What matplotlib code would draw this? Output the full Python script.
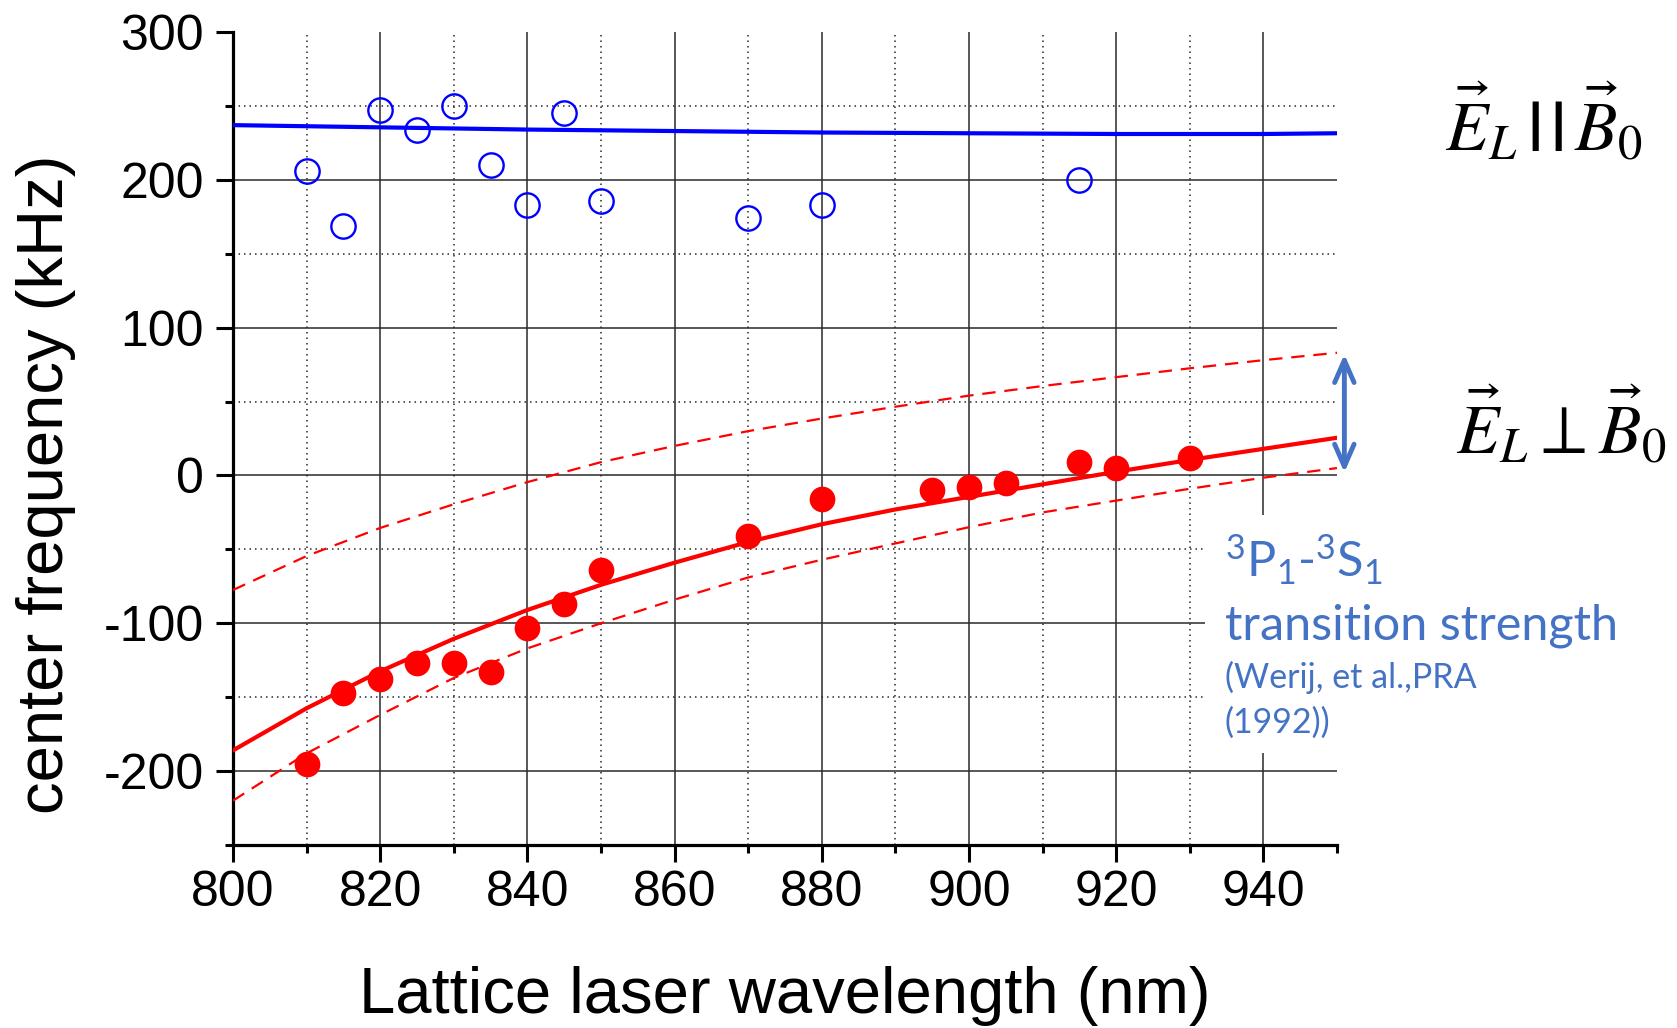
import matplotlib
matplotlib.use("Agg")
import matplotlib.pyplot as plt
from matplotlib.ticker import MultipleLocator
from matplotlib.patches import Rectangle

# ---------------- data ----------------
wl_parallel = [810, 815, 820, 825, 830, 835, 840, 845, 850, 870, 880, 915]
freq_parallel = [206, 169, 247, 234, 250, 210, 183, 245, 186, 174, 183, 200]

wl_fit_parallel = [800, 820, 840, 860, 880, 900, 920, 940, 950]
freq_fit_parallel = [237, 235.5, 234, 233, 232, 231.5, 231, 231, 231.5]

wl_perp = [810, 815, 820, 825, 830, 835, 840, 845, 850, 870, 880, 895, 900, 905, 915, 920, 930]
freq_perp = [-195, -147, -138, -127, -127, -133, -103, -87, -64, -41, -16, -10, -8, -5, 9, 5, 12]

wl_fit = [800, 810, 820, 830, 840, 850, 860, 870, 880, 890, 900, 910, 920, 930, 940, 950]
freq_fit = [-186, -157.5, -132.5, -110.5, -91, -74, -59, -45, -33, -23, -14.5, -6, 2.5, 10.5, 18, 25.5]
freq_fit_upper = [-77.5, -54.5, -35.5, -19.5, -4.5, 9, 20, 30, 38.5, 46.5, 54, 60.5, 66.5, 72.5, 78, 83]
freq_fit_lower = [-220, -188, -162, -137, -117, -100, -84, -69, -57, -46, -35, -25, -17, -9, -1.5, 5]

x_label = "Lattice laser wavelength (nm)"
y_label = "center frequency (kHz)"
label_parallel = r"$\vec{E}_L\,\mathbf{|\,|}\,\vec{B}_0$"
label_perp = r"$\vec{E}_L\perp\vec{B}_0$"
note_lines = [r"$^{3}$P$_{1}$-$^{3}$S$_{1}$", "transition strength", "(Werij, et al.,PRA", "(1992))"]

# ---------------- style ----------------
plt.rcParams["font.family"] = ["Liberation Sans", "DejaVu Sans"]
plt.rcParams["axes.unicode_minus"] = False
plt.rcParams["mathtext.fontset"] = "custom"
plt.rcParams["mathtext.rm"] = "Lato"
plt.rcParams["mathtext.it"] = "Lato:italic"
plt.rcParams["mathtext.bf"] = "Lato:bold"

W, H = 1677, 1028
fig = plt.figure(figsize=(W / 100, H / 100), dpi=100)
ax = fig.add_axes([233 / W, (H - 845) / H, 1104 / W, 813 / H])

ax.set_xlim(800, 950)
ax.set_ylim(-250, 300)
ax.xaxis.set_major_locator(MultipleLocator(20))
ax.xaxis.set_minor_locator(MultipleLocator(10))
ax.yaxis.set_major_locator(MultipleLocator(100))
ax.yaxis.set_minor_locator(MultipleLocator(50))

ax.set_axisbelow(True)
ax.grid(which="major", linestyle="-", linewidth=1.1, color="#2a2a2a")
ax.grid(which="minor", linestyle=(0, (1, 2.6)), linewidth=1.1, color="#2a2a2a")

for s in ("top", "right"):
    ax.spines[s].set_visible(False)
for s in ("left", "bottom"):
    ax.spines[s].set_linewidth(2.3)

ax.tick_params(which="major", direction="out", length=12, width=2.2, labelsize=36)
ax.tick_params(which="minor", direction="out", length=6, width=2.2)
ax.tick_params(axis="y", which="major", pad=9)
ax.tick_params(axis="x", which="major", pad=6)

# white patch behind the annotation (interrupts grid)
ax.add_patch(Rectangle((932, -188), 40, 161, facecolor="white", edgecolor="none",
                       zorder=1, clip_on=False))

# ---------------- data drawing ----------------
ax.plot(wl_fit_parallel, freq_fit_parallel, color="#0000ff", lw=3.0, zorder=3)
ax.plot(wl_parallel, freq_parallel, linestyle="none", marker="o", ms=17.5,
        mfc="none", mec="#0000ff", mew=1.7, zorder=4)

ax.plot(wl_fit, freq_fit, color="#ff0000", lw=3.0, zorder=3)
ax.plot(wl_fit, freq_fit_upper, color="#ff0000", lw=1.6, ls=(0, (6, 4)), zorder=3)
ax.plot(wl_fit, freq_fit_lower, color="#ff0000", lw=1.6, ls=(0, (6, 4)), zorder=3)
ax.plot(wl_perp, freq_perp, linestyle="none", marker="o", ms=18.5,
        mfc="#ff0000", mec="#ff0000", mew=0, zorder=4)

# double arrow
ax.annotate("", xy=(951, freq_fit_lower[-1] - 3), xytext=(951, freq_fit_upper[-1] - 1),
            xycoords="data", textcoords="data", annotation_clip=False,
            arrowprops=dict(arrowstyle="<->,head_length=0.8,head_width=0.35",
                            color="#4472c4", lw=3.5, shrinkA=0, shrinkB=0,
                            mutation_scale=20))

# labels
ax.set_xlabel(x_label, fontsize=47)
ax.set_ylabel(y_label, fontsize=47)
ax.xaxis.set_label_coords(0.5, -0.149)
ax.yaxis.set_label_coords(-0.142, 0.444)

fig.text(1445 / W, 1 - 150 / H, label_parallel, fontsize=50, math_fontfamily="stix",
         ha="left", va="baseline")
fig.text(1456 / W, 1 - 453 / H, label_perp, fontsize=50, math_fontfamily="stix",
         ha="left", va="baseline")

note_color = "#4472c4"
note_sizes = [35, 35, 24.5, 24.5]
note_base = [577, 640, 688, 733]
for txt, fs, yb in zip(note_lines, note_sizes, note_base):
    fig.text(1225 / W, 1 - yb / H, txt, fontsize=fs, color=note_color,
             family=["Lato", "DejaVu Sans"], ha="left", va="baseline")

# hide grid lines lying on the axes boundary
fig.canvas.draw()
xl, yl = ax.get_xlim(), ax.get_ylim()
for t in ax.xaxis.get_major_ticks() + ax.xaxis.get_minor_ticks():
    if abs(t.get_loc() - xl[0]) < 1e-6 or abs(t.get_loc() - xl[1]) < 1e-6:
        t.gridline.set_visible(False)
for t in ax.yaxis.get_major_ticks() + ax.yaxis.get_minor_ticks():
    if abs(t.get_loc() - yl[0]) < 1e-6 or abs(t.get_loc() - yl[1]) < 1e-6:
        t.gridline.set_visible(False)

fig.savefig("out.png", dpi=100)
